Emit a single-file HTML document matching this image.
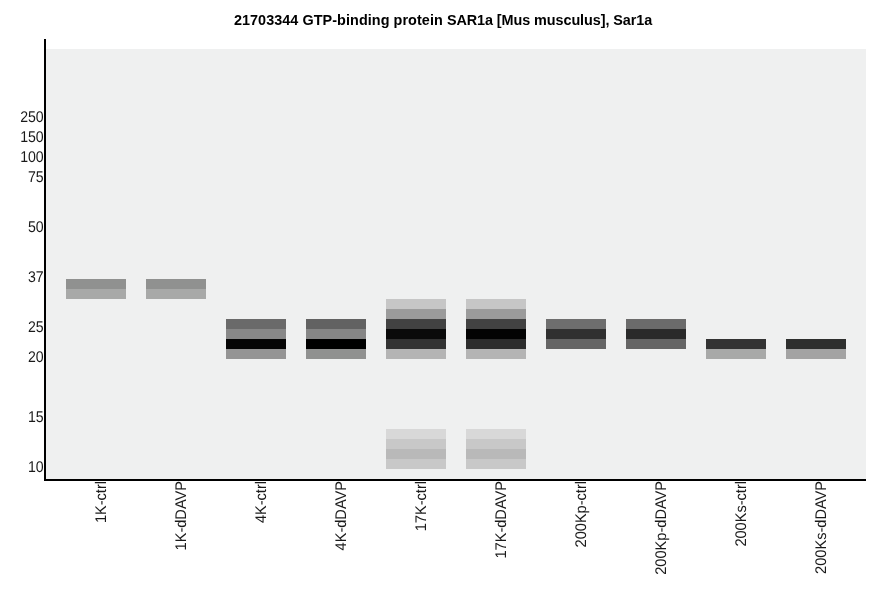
<!DOCTYPE html>
<html><head><meta charset="utf-8"><title>21703344 GTP-binding protein SAR1a</title>
<style>
html,body{margin:0;padding:0;background:#fff;}
body{width:886px;height:595px;position:relative;overflow:hidden;font-family:"Liberation Sans",Arial,sans-serif;color:#000;}
.a{position:absolute;}
#title{left:0;width:886px;top:12px;text-align:center;font-weight:bold;font-size:14.4px;line-height:16px;white-space:nowrap;}
#plot{left:46px;top:49px;width:820px;height:430px;background:#eff0f0;}
#yax{left:44px;top:39px;width:2px;height:442px;background:#000;}
#xax{left:44px;top:479px;width:822px;height:2px;background:#000;}
.yl{color:#1a1a1a;left:0;width:43.7px;text-align:right;font-size:14.4px;line-height:16px;height:16px;white-space:nowrap;transform-origin:100% 13px;transform:scale(0.98,1.08);text-rendering:geometricPrecision;}
.b{width:60px;height:10px;}
.xl{color:#1a1a1a;font-size:14.4px;line-height:16px;height:16px;white-space:nowrap;transform-origin:100% 13px;transform:rotate(-90deg) scale(1.013,1.07);text-rendering:geometricPrecision;text-align:right;width:110px;top:468.2px;}
</style></head><body>
<div class="a" id="title"><span style="letter-spacing:0.065px">21703344 GTP-binding protein </span><span style="letter-spacing:-0.07px">SAR1a [Mus musculus], Sar1a</span></div>
<div class="a" id="plot"></div>

<div class="a b" style="left:66px;top:279px;background:#909190"></div>
<div class="a b" style="left:66px;top:289px;background:#a8a9a8"></div>
<div class="a b" style="left:146px;top:279px;background:#909190"></div>
<div class="a b" style="left:146px;top:289px;background:#a8a9a8"></div>
<div class="a b" style="left:226px;top:319px;background:#6a6a6a"></div>
<div class="a b" style="left:226px;top:329px;background:#888888"></div>
<div class="a b" style="left:226px;top:339px;background:#060606"></div>
<div class="a b" style="left:226px;top:349px;background:#949494"></div>
<div class="a b" style="left:306px;top:319px;background:#626262"></div>
<div class="a b" style="left:306px;top:329px;background:#868686"></div>
<div class="a b" style="left:306px;top:339px;background:#000000"></div>
<div class="a b" style="left:306px;top:349px;background:#909190"></div>
<div class="a b" style="left:386px;top:299px;background:#c6c6c6"></div>
<div class="a b" style="left:386px;top:309px;background:#9b9b9b"></div>
<div class="a b" style="left:386px;top:319px;background:#424242"></div>
<div class="a b" style="left:386px;top:329px;background:#0a0a0a"></div>
<div class="a b" style="left:386px;top:339px;background:#323232"></div>
<div class="a b" style="left:386px;top:349px;background:#b4b4b4"></div>
<div class="a b" style="left:386px;top:429px;background:#d8d8d8"></div>
<div class="a b" style="left:386px;top:439px;background:#c8c8c8"></div>
<div class="a b" style="left:386px;top:449px;background:#b9b9b9"></div>
<div class="a b" style="left:386px;top:459px;background:#c8c8c8"></div>
<div class="a b" style="left:466px;top:299px;background:#c6c6c6"></div>
<div class="a b" style="left:466px;top:309px;background:#9b9b9b"></div>
<div class="a b" style="left:466px;top:319px;background:#424242"></div>
<div class="a b" style="left:466px;top:329px;background:#030303"></div>
<div class="a b" style="left:466px;top:339px;background:#2c2c2c"></div>
<div class="a b" style="left:466px;top:349px;background:#b4b4b4"></div>
<div class="a b" style="left:466px;top:429px;background:#d8d8d8"></div>
<div class="a b" style="left:466px;top:439px;background:#c8c8c8"></div>
<div class="a b" style="left:466px;top:449px;background:#b9b9b9"></div>
<div class="a b" style="left:466px;top:459px;background:#c8c8c8"></div>
<div class="a b" style="left:546px;top:319px;background:#6e6e6e"></div>
<div class="a b" style="left:546px;top:329px;background:#303030"></div>
<div class="a b" style="left:546px;top:339px;background:#656565"></div>
<div class="a b" style="left:626px;top:319px;background:#6b6b6b"></div>
<div class="a b" style="left:626px;top:329px;background:#2a2a2a"></div>
<div class="a b" style="left:626px;top:339px;background:#656565"></div>
<div class="a b" style="left:706px;top:339px;background:#333333"></div>
<div class="a b" style="left:706px;top:349px;background:#a8a9a8"></div>
<div class="a b" style="left:786px;top:339px;background:#2e2f2e"></div>
<div class="a b" style="left:786px;top:349px;background:#a3a3a3"></div>
<div class="a" id="yax"></div>
<div class="a" id="xax"></div>
<div class="a yl" style="top:110px">250</div>
<div class="a yl" style="top:130px">150</div>
<div class="a yl" style="top:150px">100</div>
<div class="a yl" style="top:170px">75</div>
<div class="a yl" style="top:220px">50</div>
<div class="a yl" style="top:270px">37</div>
<div class="a yl" style="top:320px">25</div>
<div class="a yl" style="top:350px">20</div>
<div class="a yl" style="top:410px">15</div>
<div class="a yl" style="top:460px">10</div>
<div class="a xl" style="left:-2.799999999999997px">1K-ctrl</div>
<div class="a xl" style="left:77.2px">1K-dDAVP</div>
<div class="a xl" style="left:157.2px">4K-ctrl</div>
<div class="a xl" style="left:237.2px">4K-dDAVP</div>
<div class="a xl" style="left:317.2px">17K-ctrl</div>
<div class="a xl" style="left:397.2px">17K-dDAVP</div>
<div class="a xl" style="left:477.2px">200Kp-ctrl</div>
<div class="a xl" style="left:557.2px">200Kp-dDAVP</div>
<div class="a xl" style="left:637.2px">200Ks-ctrl</div>
<div class="a xl" style="left:717.2px">200Ks-dDAVP</div>
</body></html>
